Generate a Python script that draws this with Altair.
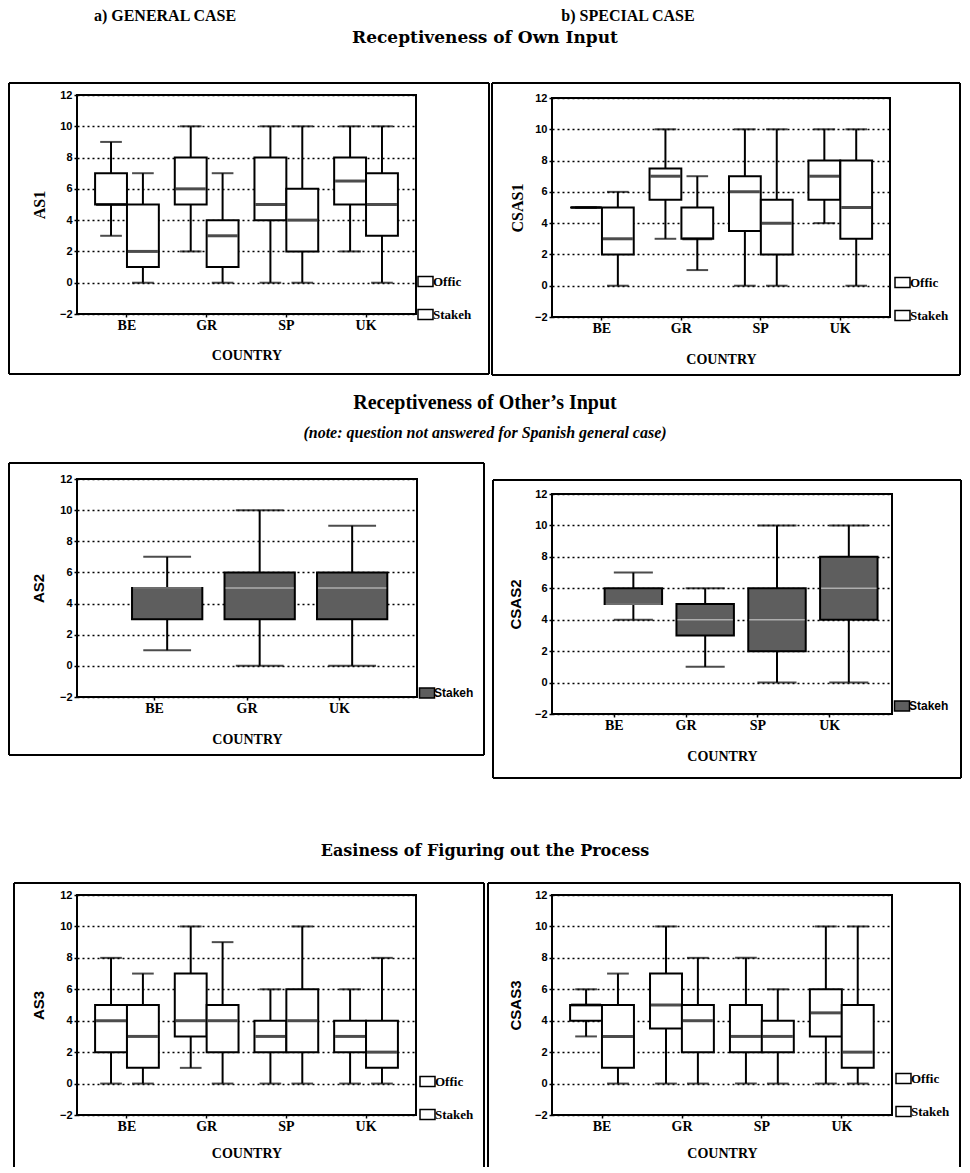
import altair as alt
import pandas as pd

SERIF = "Liberation Serif"
SANS = "Liberation Sans"
WIDE_SERIF = "DejaVu Serif"

COUNTRIES4 = ["BE", "GR", "SP", "UK"]
COUNTRIES3 = ["BE", "GR", "UK"]
GROUPS2 = ["Offic", "Stakeh"]
GROUPS1 = ["Stakeh"]
Y_TICKS = [-2, 0, 2, 4, 6, 8, 10, 12]

HEAD_CASES = ["a) GENERAL CASE", "b) SPECIAL CASE"]
HEAD_Q1 = "Receptiveness of Own Input"
HEAD_Q2 = "Receptiveness of Other\u2019s Input"
HEAD_NOTE = "(note: question not answered for Spanish general case)"
HEAD_Q3 = "Easiness of Figuring out the Process"

# values per country, Offic then Stakeh
AS1_MIN = [3, 0, 2, 0, 0, 0, 2, 0]
AS1_Q1 = [5, 1, 5, 1, 4, 2, 5, 3]
AS1_MED = [5, 2, 6, 3, 5, 4, 6.5, 5]
AS1_Q3 = [7, 5, 8, 4, 8, 6, 8, 7]
AS1_MAX = [9, 7, 10, 7, 10, 10, 10, 10]

CSAS1_MIN = [5, 0, 3, 1, 0, 0, 4, 0]
CSAS1_Q1 = [5, 2, 5.5, 3, 3.5, 2, 5.5, 3]
CSAS1_MED = [5, 3, 7, 3, 6, 4, 7, 5]
CSAS1_Q3 = [5, 5, 7.5, 5, 7, 5.5, 8, 8]
CSAS1_MAX = [5, 6, 10, 7, 10, 10, 10, 10]

# Stakeholders only
AS2_MIN = [1, 0, 0]
AS2_Q1 = [3, 3, 3]
AS2_MED = [5, 5, 5]
AS2_Q3 = [5, 6, 6]
AS2_MAX = [7, 10, 9]

CSAS2_MIN = [4, 1, 0, 0]
CSAS2_Q1 = [5, 3, 2, 4]
CSAS2_MED = [5, 4, 4, 6]
CSAS2_Q3 = [6, 5, 6, 8]
CSAS2_MAX = [7, 6, 10, 10]

AS3_MIN = [0, 0, 1, 0, 0, 0, 0, 0]
AS3_Q1 = [2, 1, 3, 2, 2, 2, 2, 1]
AS3_MED = [4, 3, 4, 4, 3, 4, 3, 2]
AS3_Q3 = [5, 5, 7, 5, 4, 6, 4, 4]
AS3_MAX = [8, 7, 10, 9, 6, 10, 6, 8]

CSAS3_MIN = [3, 0, 0, 0, 0, 0, 0, 0]
CSAS3_Q1 = [4, 1, 3.5, 2, 2, 2, 3, 1]
CSAS3_MED = [5, 3, 5, 4, 3, 3, 4.5, 2]
CSAS3_Q3 = [5, 5, 7, 5, 5, 4, 6, 5]
CSAS3_MAX = [6, 7, 10, 8, 8, 6, 10, 10]

WHITE2 = ["white", "white"]
STIPPLE = ["#5e5e5e"]

ONE = pd.DataFrame({"f": [0]})


def line(x, x2, y, y2, w=2):
    return alt.Chart(ONE).mark_rule(color="black", strokeWidth=w).encode(
        x=alt.value(x), x2=alt.value(x2), y=alt.value(y), y2=alt.value(y2))


def label(txt, x, y, size, font=SERIF, style="normal"):
    return alt.Chart(ONE).mark_text(
        text=txt, font=font, fontSize=size, fontWeight="bold", fontStyle=style,
        align="center", baseline="middle", color="black").encode(
        x=alt.value(x), y=alt.value(y))


def make_panel(countries, groups, mins, q1s, meds, q3s, maxs, fills, ytitle, s, extra=()):
    rows = []
    k = 0
    for c in countries:
        for g in groups:
            rows.append(dict(country=c, group=g, lo=mins[k], q1=q1s[k],
                             med=meds[k], q3=q3s[k], hi=maxs[k]))
            k += 1
    df = pd.DataFrame(rows)
    W, H, off = s["W"], s["H"], s["off"]
    n = len(countries)
    step = W / (n - s["pi"] + 2 * s["po"])
    sub = step * (1 - s["pi"]) / len(groups)

    x_enc = alt.X("country:N",
                  scale=alt.Scale(domain=countries, paddingInner=s["pi"], paddingOuter=s["po"]),
                  axis=alt.Axis(labelAngle=0, domain=False, ticks=True, tickSize=3,
                                tickColor="black", tickWidth=1.5, grid=False,
                                labelFont=SERIF, labelFontSize=14, labelFontWeight="bold",
                                labelColor="black", labelPadding=1,
                                titleFont=SERIF, titleFontSize=14, titleFontWeight="bold",
                                titleColor="black", titlePadding=s["xtp"]),
                  title="COUNTRY")
    xo = alt.XOffset("group:N", scale=alt.Scale(domain=groups, paddingInner=0, paddingOuter=0))
    ysc = alt.Scale(domain=[-2, 12], nice=False, zero=False, range=[H + off, off])
    yax = alt.Axis(values=Y_TICKS, grid=True, gridDash=[2, 3], gridColor="black",
                   gridWidth=1.3, gridOpacity=1, domain=False, tickSize=3,
                   tickColor="black", tickWidth=1.5, labelPadding=2,
                   labelFont=SANS, labelFontSize=11, labelFontWeight="bold",
                   labelColor="black", titleFont=s["ytf"], titleFontSize=s["yts"],
                   titleFontWeight="bold", titleColor="black", titlePadding=s["ytp"])

    def Y(field):
        return alt.Y(field, scale=ysc, axis=yax, title=ytitle)

    fl, fr, ft, fb = -s["L"], W + s["R"], off - s["T"], off + H + s["B"]
    frame = [line(fl, fr, ft, ft), line(fl, fl, ft, fb), line(fr, fr, ft, fb)]
    if s.get("closed", True):
        frame.append(line(fl, fr, fb, fb))
    border = alt.Chart(ONE).mark_rect(fillOpacity=0, stroke="black", strokeWidth=2).encode(
        x=alt.value(0), x2=alt.value(W), y=alt.value(off), y2=alt.value(off + H))

    base = alt.Chart(df)
    lower = base.mark_rule(color="black", strokeWidth=2).encode(
        x=x_enc, xOffset=xo, y=Y("lo:Q"), y2="q1:Q")
    upper = base.mark_rule(color="black", strokeWidth=2).encode(
        x=x_enc, xOffset=xo, y=Y("q3:Q"), y2="hi:Q")
    cap_lo = base.mark_tick(color="black", thickness=2, size=sub * 0.68).encode(
        x=x_enc, xOffset=xo, y=Y("lo:Q"))
    cap_hi = base.mark_tick(color="black", thickness=2, size=sub * 0.68).encode(
        x=x_enc, xOffset=xo, y=Y("hi:Q"))
    box = base.mark_bar(stroke="black", strokeWidth=2, opacity=1, width=sub).encode(
        x=x_enc, xOffset=xo, y=Y("q1:Q"), y2="q3:Q",
        color=alt.Color("group:N", scale=alt.Scale(domain=groups, range=fills),
                        legend=alt.Legend(title=None, orient="none",
                                          legendX=W + s["ldx"], legendY=off + s["ly"],
                                          symbolType="M-1.5,-1L1.5,-1L1.5,1L-1.5,1Z",
                                          symbolSize=100, symbolStrokeColor="black",
                                          symbolStrokeWidth=1.5, labelFont=s["lf"],
                                          labelFontSize=s["ls"], labelFontWeight="bold",
                                          labelColor="black", rowPadding=16,
                                          labelOffset=1, padding=0)))
    med = base.mark_tick(color=s["mc"], thickness=s["mt"], size=sub - 2).encode(
        x=x_enc, xOffset=xo, y=Y("med:Q"))
    return alt.layer(*frame, lower, upper, cap_lo, cap_hi, box, med, border, *extra).properties(
        width=W, height=H + off)


P1 = dict(W=339, H=219, off=0, L=68, R=73, T=12, B=60, pi=0.2, po=0.227, ldx=3, ly=180,
          ytf=SERIF, yts=16, ytp=12, xtp=16, lf=SERIF, ls=13, mc="black", mt=3)
P2 = dict(W=338, H=219, off=3, L=60, R=70, T=15, B=58, pi=0.2, po=0.227, ldx=6, ly=178,
          ytf=SERIF, yts=16, ytp=9, xtp=17, lf=SERIF, ls=13, mc="black", mt=3)
P3 = dict(W=340, H=218, off=0, L=68, R=67, T=16, B=58, pi=0.24, po=0.458, ldx=4, ly=208,
          ytf=SANS, yts=15, ytp=13, xtp=17, lf=SANS, ls=12, mc="#d0d0d0", mt=1.5)
P4 = dict(W=340, H=220, off=15, L=59, R=69, T=14, B=64, pi=0.2, po=0.467, ldx=4, ly=206,
          ytf=SANS, yts=15, ytp=11, xtp=17, lf=SANS, ls=12, mc="#d0d0d0", mt=1.5)
P5 = dict(W=339, H=220, off=19, L=63, R=68, T=12, B=52, closed=False, pi=0.2, po=0.227,
          ldx=5, ly=180, ytf=SANS, yts=15, ytp=13, xtp=13, lf=SERIF, ls=13, mc="black", mt=3)
P6 = dict(W=340, H=220, off=19, L=64, R=68, T=12, B=52, closed=False, pi=0.2, po=0.227,
          ldx=5, ly=177, ytf=SANS, yts=15, ytp=11, xtp=13, lf=SERIF, ls=13, mc="black", mt=3)

# header texts, placed relative to the left plot of each row
EXTRA1 = [label(HEAD_CASES[0], 88, -79, 16), label(HEAD_CASES[1], 551, -79, 16),
          label(HEAD_Q1, 408, -57, 17, WIDE_SERIF)]
EXTRA3 = [label(HEAD_Q2, 408, -76, 20), label(HEAD_NOTE, 408, -46, 16, SERIF, "italic")]
EXTRA5 = [label(HEAD_Q3, 408, -25, 16, WIDE_SERIF)]

p1 = make_panel(COUNTRIES4, GROUPS2, AS1_MIN, AS1_Q1, AS1_MED, AS1_Q3, AS1_MAX, WHITE2, "AS1", P1, EXTRA1)
p2 = make_panel(COUNTRIES4, GROUPS2, CSAS1_MIN, CSAS1_Q1, CSAS1_MED, CSAS1_Q3, CSAS1_MAX, WHITE2, "CSAS1", P2)
p3 = make_panel(COUNTRIES3, GROUPS1, AS2_MIN, AS2_Q1, AS2_MED, AS2_Q3, AS2_MAX, STIPPLE, "AS2", P3, EXTRA3)
p4 = make_panel(COUNTRIES4, GROUPS1, CSAS2_MIN, CSAS2_Q1, CSAS2_MED, CSAS2_Q3, CSAS2_MAX, STIPPLE, "CSAS2", P4)
p5 = make_panel(COUNTRIES4, GROUPS2, AS3_MIN, AS3_Q1, AS3_MED, AS3_Q3, AS3_MAX, WHITE2, "AS3", P5, EXTRA5)
p6 = make_panel(COUNTRIES4, GROUPS2, CSAS3_MIN, CSAS3_Q1, CSAS3_MED, CSAS3_Q3, CSAS3_MAX, WHITE2, "CSAS3", P6)

chart = alt.concat(p1, p2, p3, p4, p5, p6, columns=2, bounds="flush", align="each",
                   spacing={"row": 162, "column": 135}).resolve_scale(
    color="independent").resolve_legend(color="independent").properties(
    padding=0, background="white").configure_view(strokeWidth=0, strokeOpacity=0)

chart.save("out.html", embed_options={"renderer": "svg", "actions": False})
